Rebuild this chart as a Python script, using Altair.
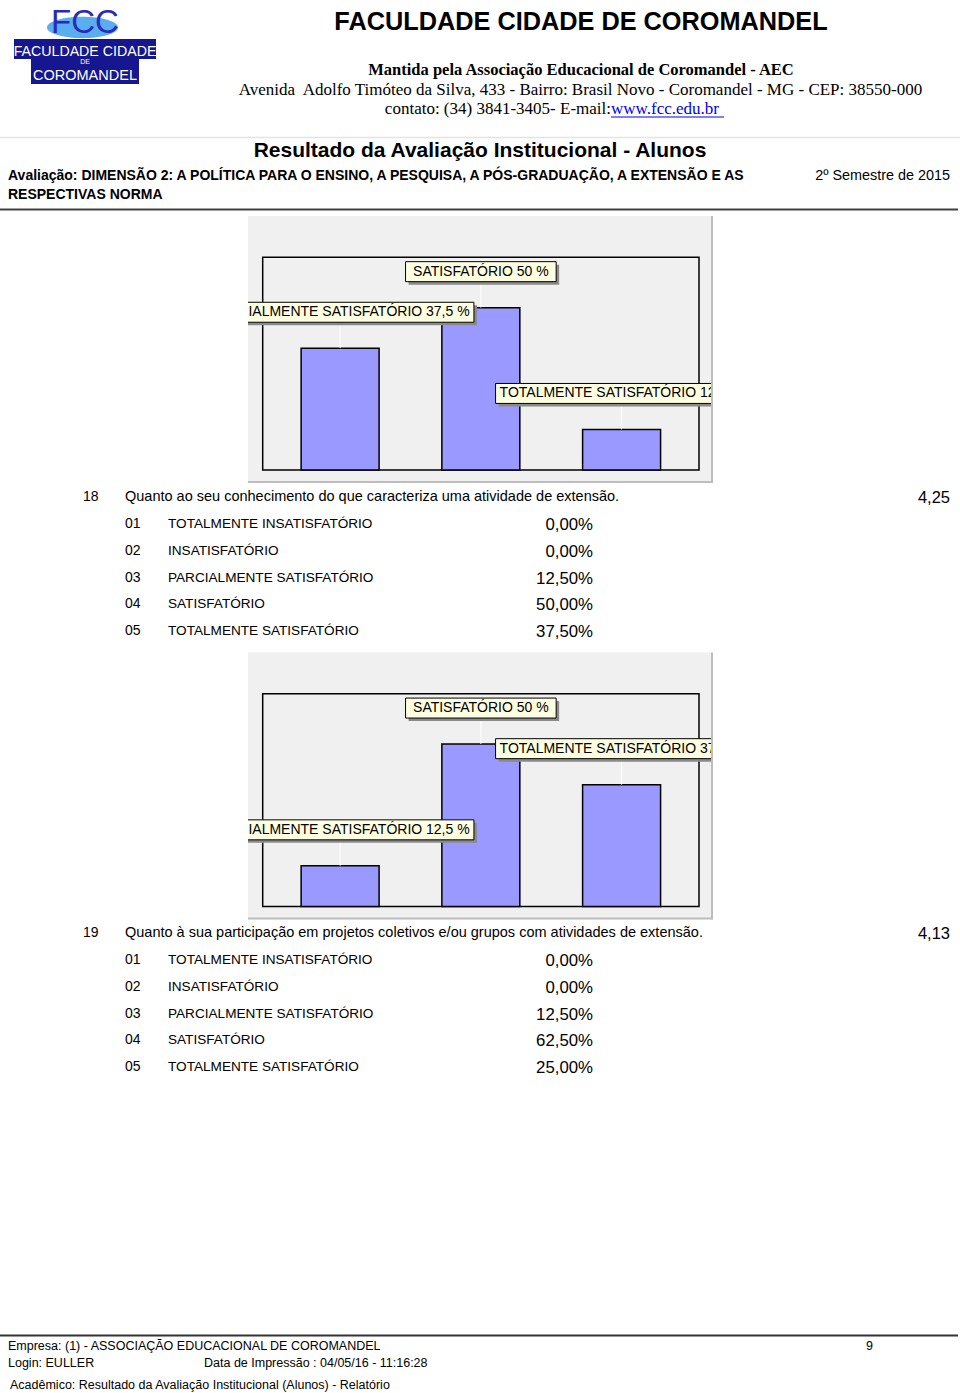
import altair as alt
import pandas as pd

SANS = "Liberation Sans, Arial, Helvetica, sans-serif"
NARROW = "Liberation Sans Narrow, Arial Narrow, Liberation Sans, sans-serif"
SERIF = "Liberation Serif, Times New Roman, serif"

# ---------------- data ----------------
chart_categories = ["PARCIALMENTE SATISFATÓRIO", "SATISFATÓRIO", "TOTALMENTE SATISFATÓRIO"]
chart1_values = [37.5, 50.0, 12.5]
chart2_values = [12.5, 50.0, 37.5]

q_numbers = ["18", "19"]
q_texts = [
    "Quanto ao seu conhecimento do que caracteriza uma atividade de extensão.",
    "Quanto à sua participação em projetos coletivos e/ou grupos com atividades de extensão.",
]
q_means = ["4,25", "4,13"]
option_codes = ["01", "02", "03", "04", "05"]
option_labels = [
    "TOTALMENTE INSATISFATÓRIO",
    "INSATISFATÓRIO",
    "PARCIALMENTE SATISFATÓRIO",
    "SATISFATÓRIO",
    "TOTALMENTE SATISFATÓRIO",
]
q18_pcts = [0.0, 0.0, 12.5, 50.0, 37.5]
q19_pcts = [0.0, 0.0, 12.5, 62.5, 25.0]


def fmt_short(v):
    return ("%g" % v).replace(".", ",")


def fmt_pct(v):
    return ("%.2f" % v).replace(".", ",") + "%"


one = pd.DataFrame({"k": [0]})


def prect(x, x2, y, y2, **kw):
    return alt.Chart(one).mark_rect(**kw).encode(
        x=alt.value(x), x2=alt.value(x2), y=alt.value(y), y2=alt.value(y2))


def hline(x, x2, y, color, w):
    return alt.Chart(one).mark_rule(color=color, strokeWidth=w).encode(
        x=alt.value(x), x2=alt.value(x2), y=alt.value(y))


def vline(x, y, y2, color, w):
    return alt.Chart(one).mark_rule(color=color, strokeWidth=w).encode(
        x=alt.value(x), y=alt.value(y), y2=alt.value(y2))


def ptext(s, x, y, size, bold=False, align="left", font=SANS, color="#000000", baseline="alphabetic"):
    return alt.Chart(one).mark_text(
        text=s, font=font, fontSize=size, fontWeight="bold" if bold else "normal",
        align=align, baseline=baseline, color=color,
    ).encode(x=alt.value(x), y=alt.value(y))


PX_PER_UNIT = (699.0 - 262.7) / 3.1


def bar_panel(values, dy):
    df = pd.DataFrame({"idx": list(range(len(values))), "cat": chart_categories, "value": values})
    df["label"] = [f"{c} {fmt_short(v)} %" for c, v in zip(chart_categories, values)]
    xs = alt.Scale(domain=[-0.55, 2.55], range=[262.7, 699.0])
    ys = alt.Scale(domain=[0, 65.5], range=[470.0 + dy, 257.3 + dy])

    def X(f):
        return alt.X(f + ":Q", scale=xs, axis=None)

    def Y(f):
        return alt.Y(f + ":Q", scale=ys, axis=None)

    base = (
        alt.Chart(df)
        .transform_calculate(zero="0")
        .transform_calculate(b_lo="datum.idx - 0.277")
        .transform_calculate(b_hi="datum.idx + 0.277")
        .transform_calculate(lead="datum.value + 8")
        .transform_calculate(box_top="datum.value + 14.15")
        .transform_calculate(box_mid="datum.value + 11.07")
        .transform_calculate(half=f"(7.8 * length(datum.label) + 18) / 2 / {PX_PER_UNIT}")
        .transform_calculate(l_lo="datum.idx - datum.half")
        .transform_calculate(l_hi="datum.idx + datum.half")
    )
    layers = [
        prect(248, 711, 216 + dy, 482 + dy, fill="#F0F0F0"),
        prect(262.7, 699, 257.3 + dy, 470 + dy, fill="#F0F0F0", stroke="#000000", strokeWidth=1.5),
        base.mark_rect(fill="#9999FF", stroke="#000000", strokeWidth=1.5).encode(
            x=X("b_lo"), x2="b_hi:Q", y=Y("value"), y2="zero:Q"),
        base.mark_rule(color="#FFFFFF", strokeWidth=1).encode(
            x=X("idx"), y=Y("value"), y2="lead:Q"),
        base.mark_rect(fill="#8A8A8A", xOffset=3, x2Offset=3, yOffset=3, y2Offset=3).encode(
            x=X("l_lo"), x2="l_hi:Q", y=Y("lead"), y2="box_top:Q"),
        base.mark_rect(fill="#FFFFE1", stroke="#000000", strokeWidth=1).encode(
            x=X("l_lo"), x2="l_hi:Q", y=Y("lead"), y2="box_top:Q"),
        base.mark_text(font=SANS, fontSize=14, color="#000000", baseline="middle").encode(
            x=X("idx"), y=Y("box_mid"), text="label:N"),
        prect(0, 248, 216 + dy, 484 + dy, fill="#FFFFFF"),
        prect(711, 960, 216 + dy, 484 + dy, fill="#FFFFFF"),
        vline(712, 216 + dy, 483 + dy, "#BDBDBD", 2),
        hline(248, 713, 482 + dy, "#BDBDBD", 2),
    ]
    return layers


def table_block(num, text, mean, pcts, dy):
    rows = pd.DataFrame({
        "row": list(range(len(option_codes))),
        "code": option_codes,
        "label": option_labels,
        "pct": [fmt_pct(p) for p in pcts],
    })
    ys = alt.Scale(domain=[0, 4], range=[524 + dy, 631 + dy])
    Y = alt.Y("row:Q", scale=ys, axis=None)
    base = alt.Chart(rows)
    return [
        ptext(num, 83, 497 + dy, 14, baseline="middle"),
        ptext(text, 125, 497 + dy, 14.5, baseline="middle"),
        ptext(mean, 950, 498 + dy, 16.5, align="right", baseline="middle"),
        base.mark_text(font=SANS, fontSize=14, align="left", baseline="middle").encode(
            x=alt.value(125), y=Y, text="code:N"),
        base.mark_text(font=SANS, fontSize=13.6, align="left", baseline="middle").encode(
            x=alt.value(168), y=Y, text="label:N"),
        base.mark_text(font=SANS, fontSize=16.8, align="right", baseline="middle", yOffset=1).encode(
            x=alt.value(593), y=Y, text="pct:N"),
    ]


layers = []

# ---- logo ----
layers += [
    alt.Chart(one).mark_point(
        shape="M -1 0 A 1 0.3 0 1 0 1 0 A 1 0.3 0 1 0 -1 0 Z",
        filled=True, color="#5AAEF0", opacity=1, size=5041, strokeWidth=0,
    ).encode(x=alt.value(82.5), y=alt.value(27.5)),
    ptext("FCC", 85, 33, 33, align="center", font=NARROW, color="#2A2AB8"),
    prect(14, 156, 39, 59, fill="#16168E"),
    prect(31, 139, 58, 84, fill="#16168E"),
    ptext("FACULDADE CIDADE", 85, 55.5, 14.2, align="center", font=NARROW, color="#FFFFFF"),
    ptext("DE", 85, 64, 7, align="center", font=NARROW, color="#FFFFFF"),
    ptext("COROMANDEL", 85, 79.5, 14.5, align="center", font=NARROW, color="#FFFFFF"),
]

# ---- header ----
layers += [
    ptext("FACULDADE CIDADE DE COROMANDEL", 581, 30, 25.3, bold=True, align="center"),
    ptext("Mantida pela Associação Educacional de Coromandel - AEC", 581, 75, 16.5, bold=True,
          align="center", font=SERIF),
    ptext("Avenida\u00a0 Adolfo Timóteo da Silva, 433 - Bairro: Brasil Novo - Coromandel - MG - CEP: 38550-000",
          580.5, 94.5, 17, align="center", font=SERIF),
    ptext("contato: (34) 3841-3405- E-mail:\u00a0", 611, 113.5, 17, align="right", font=SERIF),
    ptext("www.fcc.edu.br", 611, 113.5, 17, font=SERIF, color="#0000EE"),
    hline(611, 724, 117, "#0000EE", 1),
    hline(0, 960, 137.5, "#E4E4E4", 1.5),
    ptext("Resultado da Avaliação Institucional - Alunos", 480, 157, 21, bold=True, align="center"),
    ptext("Avaliação: DIMENSÃO 2: A POLÍTICA PARA O ENSINO, A PESQUISA, A PÓS-GRADUAÇÃO, A EXTENSÃO E AS",
          8, 180, 14, bold=True),
    ptext("RESPECTIVAS NORMA", 8, 198.5, 14, bold=True),
    ptext("2º Semestre de 2015", 950, 180, 14.4, align="right"),
    hline(0, 958, 209.5, "#404040", 2),
]

# ---- question blocks ----
layers += bar_panel(chart1_values, 0)
layers += table_block(q_numbers[0], q_texts[0], q_means[0], q18_pcts, 0)
layers += bar_panel(chart2_values, 436.4)
layers += table_block(q_numbers[1], q_texts[1], q_means[1], q19_pcts, 436)

# ---- footer ----
layers += [
    hline(0, 958, 1335.5, "#333333", 2),
    ptext("Empresa: (1) - ASSOCIAÇÃO EDUCACIONAL DE COROMANDEL", 8, 1345.5, 12.5, baseline="middle"),
    ptext("9", 866, 1345.5, 12.5, baseline="middle"),
    ptext("Login: EULLER", 8, 1363, 12.5, baseline="middle"),
    ptext("Data de Impressão : 04/05/16 - 11:16:28", 204, 1363, 12.5, baseline="middle"),
    ptext("Acadêmico: Resultado da Avaliação Institucional (Alunos) - Relatório", 10, 1384.5, 12.5,
          baseline="middle"),
]

chart = (
    alt.layer(*layers)
    .resolve_scale(x="independent", y="independent")
    .properties(width=960, height=1393, autosize=alt.AutoSizeParams(type="none"), padding=0,
                background="#FFFFFF")
    .configure_view(stroke=None)
)

chart.save("out.html", embed_options={"renderer": "svg", "actions": False})
